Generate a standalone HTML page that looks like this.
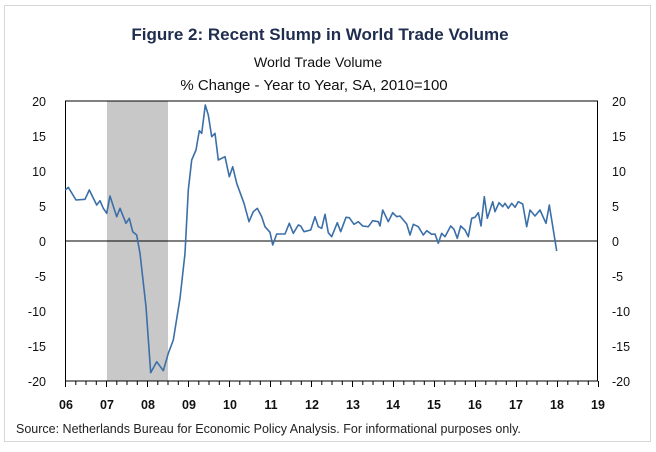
<!DOCTYPE html>
<html><head><meta charset="utf-8"><style>
body{margin:0;background:#fff;}
svg text{font-family:"Liberation Sans",sans-serif;}
</style></head><body>
<svg width="656" height="447" viewBox="0 0 656 447" xmlns="http://www.w3.org/2000/svg">
<rect x="4.5" y="5.5" width="646" height="436" fill="#fff" stroke="#d6d6d6" stroke-width="1"/>
<text x="320" y="40" text-anchor="middle" font-size="17" font-weight="bold" fill="#1f2d4e">Figure 2: Recent Slump in World Trade Volume</text>
<text x="318" y="67" text-anchor="middle" font-size="14.2" fill="#111">World Trade Volume</text>
<text x="314" y="90" text-anchor="middle" font-size="15" fill="#111">% Change - Year to Year, SA, 2010=100</text>
<rect x="107" y="101" width="61" height="280" fill="#c8c8c8"/>
<rect x="65.5" y="101" width="532" height="280" fill="none" stroke="#000" stroke-width="1"/>
<line x1="65" y1="241" x2="598" y2="241" stroke="#000" stroke-width="1"/>
<g font-size="12.5" fill="#111" text-anchor="end">
<text x="46" y="106">20</text><text x="46" y="141">15</text><text x="46" y="176">10</text><text x="46" y="211">5</text><text x="46" y="246">0</text><text x="46" y="281">-5</text><text x="46" y="316">-10</text><text x="46" y="351">-15</text><text x="46" y="386">-20</text>
</g>
<g font-size="12.5" fill="#111" text-anchor="start">
<text x="612" y="106">20</text><text x="612" y="141">15</text><text x="612" y="176">10</text><text x="612" y="211">5</text><text x="612" y="246">0</text><text x="612" y="281">-5</text><text x="612" y="316">-10</text><text x="612" y="351">-15</text><text x="612" y="386">-20</text>
</g>
<g font-size="12.5" fill="#111" text-anchor="middle" font-weight="bold">
<text x="66" y="409">06</text><text x="107" y="409">07</text><text x="148" y="409">08</text><text x="189" y="409">09</text><text x="230" y="409">10</text><text x="271" y="409">11</text><text x="312" y="409">12</text><text x="353" y="409">13</text><text x="393" y="409">14</text><text x="434" y="409">15</text><text x="475" y="409">16</text><text x="516" y="409">17</text><text x="557" y="409">18</text><text x="598" y="409">19</text>
</g>
<path id="tk" fill="none" stroke="#000" stroke-width="1" d=""/>
<polyline fill="none" stroke="#3b6fa8" stroke-width="1.6" stroke-linejoin="round" points="
65.3,190 68.3,187.3 76,200 85,199.3 89.3,190 96.7,205 100,200.7 103.3,208.3 106.7,213.3 110,196 116.7,216.7 120,208.3 126,223.3 129.3,218.3 132.7,231.7 136.7,235 140,253.3 146,306.7 150.7,372.7 156.7,361.7 163.3,370.7 168.3,353.3 173.3,340 180,298.3 185,253.3 188.3,190 191.7,160 196,150 199.3,130.7 201.7,133.3 205.3,105 208.3,115 211.7,136.7 215,133.3 218.3,160 225,156.7 229.3,176.7 232.7,166.7 236.7,183.3 244,203.3 249,221.7 253.3,211.7 257.3,208.3 261.7,216.7 265,226.7 270,232.3 272.7,245 276.7,234 285,234 289.3,223.3 293.3,233.3 298.3,225 300.7,226 304,231.7 310.7,230 315,216.7 318.3,226.7 321.7,228.3 325,214.3 328.3,232.7 331.7,236.7 337.3,222.7 340.7,231.7 346,217.3 349.3,217.7 354,224.3 358.3,221.7 362.7,226 368.3,226.7 372.7,220.7 378.3,221.7 380,226 382.7,210 388.3,221.7 392.7,212.7 396.7,216.7 400,216 406.7,224 410,235 413.3,224.3 418.3,226.7 423.3,235 426.7,230.7 431.7,234.3 435,234 438.3,243.3 441.7,233.3 445,236.7 450.7,226 454,229.3 457.3,238.3 460.7,226 465,230 468.3,236.7 471.7,218.3 475,217.3 478.3,212.7 481,226 484.3,196.7 487.3,218.3 492.7,201.7 495,211.7 499,202.7 502.7,206.7 505,203.3 508.3,208.3 511.7,203.3 515,207.3 518.3,201.7 522.7,204 526.7,226.7 530,210 535,216 540,210 546,223.3 549.3,205 556.7,251"/>
<text x="16" y="433" font-size="12.5" fill="#222">Source: Netherlands Bureau for Economic Policy Analysis. For informational purposes only.</text>
<script>
var d="";for(var i=0;i<=52;i++){var x=65.5+i*41/4;var l=(i%4==0)?6:4;d+="M"+x.toFixed(1)+" 381V"+(381+l)+" ";}
document.getElementById("tk").setAttribute("d",d);
</script>
</svg>
</body></html>
